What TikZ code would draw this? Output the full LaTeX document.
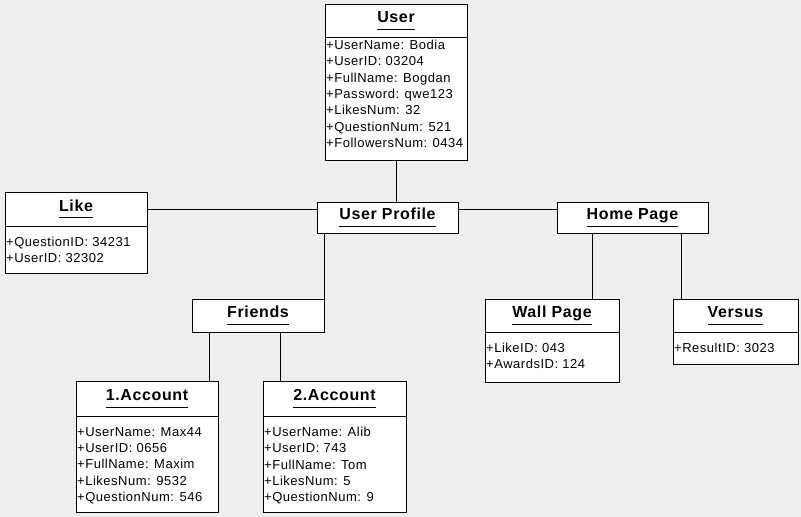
\documentclass[tikz,border=0pt]{standalone}
\usepackage{fontspec}
\setmainfont{Liberation Sans}
\newfontfamily\umlfont[LetterSpace=4]{Liberation Sans}
\usetikzlibrary{positioning}
\definecolor{canvas}{RGB}{238,238,238}
\newcommand{\umlname}[1]{\setbox0\hbox{#1}\copy0\llap{\rule[-7pt]{\wd0}{1pt}}}
\tikzset{
  head/.style={draw, fill=white, rectangle, line width=1pt, inner sep=0pt, outer sep=0pt, anchor=north west, font=\umlfont\bfseries\fontsize{16pt}{18pt}\selectfont},
  body/.style={draw, fill=white, rectangle, line width=1pt, inner sep=0pt, outer sep=0pt, below=0pt of #1},
  attr/.style={inner xsep=1pt, inner ysep=0pt, align=left, font=\umlfont\fontsize{13pt}{16.3pt}\selectfont},
  link/.style={line width=1pt},
}
\begin{document}
\begin{tikzpicture}[x=1pt, y=-1pt]

\fill[canvas] (0,0) rectangle (801,517);

% top class
\node[head, minimum width=142, minimum height=33] (user) at (325,4) {\umlname{User}};
\node[body=user, minimum width=142, minimum height=123] (userbody) {};
\node[attr, below right=3pt and 0pt of userbody.north west] (usertext)
  {+UserName: Bodia\\+UserID: 03204\\+FullName: Bogdan\\+Password: qwe123\\+LikesNum: 32\\+QuestionNum: 521\\+FollowersNum: 0434};

% middle row
\node[head, minimum width=142, minimum height=34] (like) at (5,192) {\umlname{Like}};
\node[body=like, minimum width=142, minimum height=47] (likebody) {};
\node[attr, below right=11pt and 0pt of likebody.north west] (liketext)
  {+QuestionID: 34231\\+UserID: 32302};

\node[head, minimum width=141, minimum height=31] (profile) at (317,202) {\umlname{User Profile}};
\node[head, minimum width=151, minimum height=31] (home) at (557,202) {\umlname{Home Page}};

% lower row
\node[head, minimum width=132, minimum height=33] (friends) at (192,299) {\umlname{Friends}};

\node[head, minimum width=134, minimum height=33] (wall) at (485,299) {\umlname{Wall Page}};
\node[body=wall, minimum width=134, minimum height=50] (wallbody) {};
\node[attr, below right=11pt and 0pt of wallbody.north west] (walltext)
  {+LikeID: 043\\+AwardsID: 124};

\node[head, minimum width=125, minimum height=33] (versus) at (673,299) {\umlname{Versus}};
\node[body=versus, minimum width=125, minimum height=32] (versusbody) {};
\node[attr, below right=11pt and 0pt of versusbody.north west] (versustext)
  {+ResultID: 3023};

% accounts
\node[head, minimum width=142, minimum height=35] (acc1) at (76,381) {\umlname{1.Account}};
\node[body=acc1, minimum width=142, minimum height=96] (acc1body) {};
\node[attr, below right=11pt and 0pt of acc1body.north west] (acc1text)
  {+UserName: Max44\\+UserID: 0656\\+FullName: Maxim\\+LikesNum: 9532\\+QuestionNum: 546};

\node[head, minimum width=143, minimum height=35] (acc2) at (263,381) {\umlname{2.Account}};
\node[body=acc2, minimum width=143, minimum height=96] (acc2body) {};
\node[attr, below right=11pt and 0pt of acc2body.north west] (acc2text)
  {+UserName: Alib\\+UserID: 743\\+FullName: Tom\\+LikesNum: 5\\+QuestionNum: 9};

% links
\coordinate (tofirst) at ([xshift=17pt]friends.south west);
\coordinate (tosecond) at ([xshift=88pt]friends.south west);
\coordinate (towall) at ([xshift=35pt]home.south west);
\coordinate (toversus) at ([xshift=-27pt]home.south east);

\draw[link] (userbody.south) -- (userbody.south |- profile.north);
\draw[link] (like.east) -- (like.east -| profile.west);
\draw[link] (like.east -| profile.east) -- (like.east -| home.west);
\draw[link] (profile.south -| friends.north east) -- (friends.north east);
\draw[link] (tofirst) -- (tofirst |- acc1.north);
\draw[link] (tosecond) -- (tosecond |- acc2.north);
\draw[link] (towall) -- (towall |- wall.north);
\draw[link] (toversus) -- (toversus |- versus.north);

\end{tikzpicture}
\end{document}
